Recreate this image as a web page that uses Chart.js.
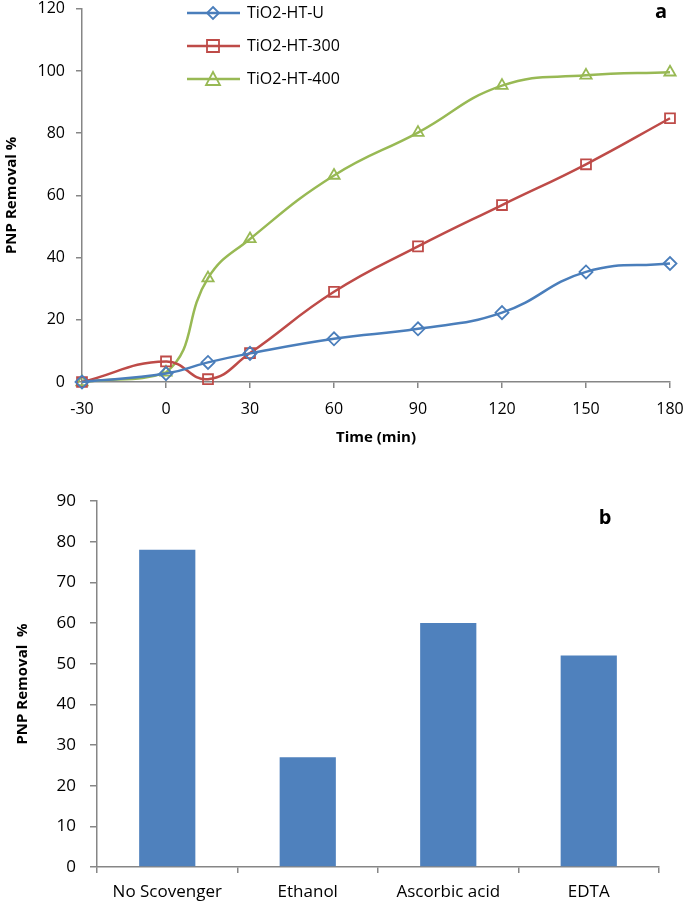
<!DOCTYPE html>
<html>
<head>
<meta charset="utf-8">
<script src="https://cdn.jsdelivr.net/npm/chart.js@4.4.0/dist/chart.umd.min.js"></script>
<style>
  body { margin: 0; background: #fff; width: 685px; height: 902px; overflow: hidden; position: relative; }
  #boxA { position: absolute; left: 0; top: 0; width: 685px; height: 450px; }
  #boxB { position: absolute; left: 0; top: 450px; width: 685px; height: 452px; }
</style>
</head>
<body>
<div id="boxA"><canvas id="chartA" width="685" height="450"></canvas></div>
<div id="boxB"><canvas id="chartB" width="685" height="452"></canvas></div>
<script>
// panel a: removal vs time
const timeMin = [-30, 0, 15, 30, 60, 90, 120, 150, 180];
const htU = [0, 2.7, 6.3, 9.2, 13.9, 17.1, 22.3, 35.4, 38.1];
const ht300 = [0, 6.6, 0.9, 9.3, 29, 43.6, 56.9, 70, 84.8];
const ht400 = [0, 3.1, 33.4, 46, 66.4, 80.2, 95.3, 98.6, 99.6];
const seriesNames = ["TiO2-HT-U", "TiO2-HT-300", "TiO2-HT-400"];
const timeTicks = [-30, 0, 30, 60, 90, 120, 150, 180];

// panel b: scavengers
const scavengers = ["No Scovenger", "Ethanol", "Ascorbic acid", "EDTA"];
const removal = [78, 27, 60, 52];

const FONT = "'Open Sans', sans-serif";
const AXIS = "#868686";

function toPoints(ys) {
  return timeMin.map((t, i) => ({ x: t, y: ys[i] }));
}

// draws a hollow marker
function marker(ctx, style, x, y, color) {
  ctx.save();
  ctx.strokeStyle = color;
  ctx.lineWidth = 1.8;
  ctx.beginPath();
  if (style === "rectRot") {
    ctx.moveTo(x, y - 6); ctx.lineTo(x + 6, y); ctx.lineTo(x, y + 6); ctx.lineTo(x - 6, y); ctx.closePath();
  } else if (style === "rect") {
    ctx.rect(x - 6, y - 6, 12, 12);
  } else {
    ctx.moveTo(x, y - 7); ctx.lineTo(x + 7, y + 6); ctx.lineTo(x - 7, y + 6); ctx.closePath();
  }
  ctx.stroke();
  ctx.restore();
}

const insideLegend = {
  id: "insideLegend",
  afterDraw(chart, args, opts) {
    const ctx = chart.ctx;
    ctx.save();
    chart.data.datasets.forEach((ds, i) => {
      const y = opts.top + i * opts.gap;
      ctx.strokeStyle = ds.borderColor;
      ctx.lineWidth = 2.5;
      ctx.beginPath();
      ctx.moveTo(opts.left, y);
      ctx.lineTo(opts.left + 53, y);
      ctx.stroke();
      marker(ctx, ds.pointStyle, opts.left + 26, y, ds.borderColor);
      ctx.fillStyle = "#000";
      ctx.font = "16px " + FONT;
      ctx.textBaseline = "middle";
      ctx.fillText(ds.label, opts.left + 60, y);
    });
    ctx.restore();
  }
};

const panelLabel = {
  id: "panelLabel",
  afterDraw(chart, args, opts) {
    const ctx = chart.ctx;
    ctx.save();
    ctx.fillStyle = "#000";
    ctx.font = "bold 20px " + FONT;
    ctx.textAlign = "center";
    ctx.textBaseline = "middle";
    ctx.fillText(opts.text, opts.x, opts.y);
    ctx.restore();
  }
};

const lineColors = ["#4A7EBB", "#BE4B48", "#98B954"];
const styles = ["rectRot", "rect", "triangle"];
const lineData = [htU, ht300, ht400];

new Chart(document.getElementById("chartA"), {
  type: "line",
  data: {
    datasets: lineData.map((ys, i) => ({
      label: seriesNames[i],
      data: toPoints(ys),
      borderColor: lineColors[i],
      backgroundColor: "rgba(0,0,0,0)",
      borderWidth: 2.5,
      tension: 0.45,
      pointStyle: styles[i],
      pointRadius: i === 1 ? 7 : 6.5,
      pointBorderWidth: 1.8,
      pointBackgroundColor: "rgba(0,0,0,0)",
      pointBorderColor: lineColors[i],
      clip: false
    }))
  },
  options: {
    responsive: false,
    animation: false,
    layout: { padding: { left: 0, right: 15, top: 6, bottom: 0 } },
    plugins: {
      legend: { display: false },
      tooltip: { enabled: false },
      insideLegend: { left: 187, top: 13, gap: 33 },
      panelLabel: { text: "a", x: 661, y: 12 }
    },
    scales: {
      x: {
        type: "linear", min: -30, max: 180,
        afterBuildTicks: s => { s.ticks = timeTicks.map(v => ({ value: v })); },
        afterFit: s => { s.height = 68; s.paddingLeft = 0; s.paddingRight = 0; },
        ticks: { font: { family: FONT, size: 16 }, color: "#000", padding: 12 },
        grid: { drawOnChartArea: false, drawTicks: true, tickLength: 6, color: AXIS, lineWidth: 1.5 },
        border: { color: AXIS, width: 1.5 },
        title: { display: true, text: "Time (min)", color: "#000", font: { family: FONT, size: 15, weight: "bold" }, padding: { top: 4, bottom: 3 } }
      },
      y: {
        min: 0, max: 120,
        afterFit: s => { s.width = 82; s.paddingTop = 0; s.paddingBottom = 0; },
        ticks: { stepSize: 20, font: { family: FONT, size: 16 }, color: "#000", padding: 11 },
        grid: { drawOnChartArea: false, drawTicks: true, tickLength: 6, color: AXIS, lineWidth: 1.5 },
        border: { color: AXIS, width: 1.5 },
        title: { display: true, text: "PNP Removal %", color: "#000", font: { family: FONT, size: 15, weight: "bold" }, padding: { top: 3, bottom: 0 } }
      }
    }
  },
  plugins: [insideLegend, panelLabel]
});

new Chart(document.getElementById("chartB"), {
  type: "bar",
  data: {
    labels: scavengers,
    datasets: [{
      data: removal,
      backgroundColor: "#4F81BD",
      categoryPercentage: 1,
      barPercentage: 0.4
    }]
  },
  options: {
    responsive: false,
    animation: false,
    layout: { padding: { left: 0, right: 26, top: 51, bottom: 0 } },
    plugins: {
      legend: { display: false },
      tooltip: { enabled: false },
      panelLabel: { text: "b", x: 605, y: 68 }
    },
    scales: {
      x: {
        afterFit: s => { s.height = 35; s.paddingLeft = 0; s.paddingRight = 0; },
        ticks: { font: { family: FONT, size: 17 }, color: "#000", padding: 9 },
        grid: { drawOnChartArea: false, drawTicks: true, tickLength: 6, color: AXIS, lineWidth: 1.5 },
        border: { color: AXIS, width: 1.5 }
      },
      y: {
        min: 0, max: 90,
        afterFit: s => { s.width = 97; s.paddingTop = 0; s.paddingBottom = 0; },
        ticks: { stepSize: 10, font: { family: FONT, size: 17 }, color: "#000", padding: 14 },
        grid: { drawOnChartArea: false, drawTicks: true, tickLength: 7, color: AXIS, lineWidth: 1.5 },
        border: { color: AXIS, width: 1.5 },
        title: { display: true, text: "PNP Removal  %", color: "#000", font: { family: FONT, size: 15, weight: "bold" }, padding: { top: 14, bottom: 0 } }
      }
    }
  },
  plugins: [panelLabel]
});
</script>
</body>
</html>
